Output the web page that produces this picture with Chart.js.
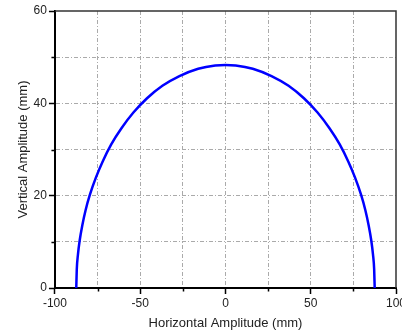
<!DOCTYPE html>
<html>
<head>
<meta charset="utf-8">
<script src="https://cdn.jsdelivr.net/npm/chart.js@4"></script>
<style>
  body { margin: 0; background: #fff; }
  #wrap { width: 402px; height: 331px; }
</style>
</head>
<body>
<div id="wrap"><canvas id="ampChart" width="402" height="331"></canvas></div>
<script>
// Valores
var horizontal = [-87.5, -87.2, -86.5, -85.5, -84, -82, -79.5, -76, -72, -67, -61, -54, -46, -37, -27, -16, -6, 0,
                  6, 16, 27, 37, 46, 54, 61, 67, 72, 76, 79.5, 82, 84, 85.5, 86.5, 87.2, 87.5];
var vertical = [0, 4.0, 7.3, 10.3, 13.5, 16.9, 20.2, 23.9, 27.4, 31.1, 34.6, 38.0, 41.1, 43.8, 45.9, 47.5, 48.2, 48.3,
                48.2, 47.5, 45.9, 43.8, 41.1, 38.0, 34.6, 31.1, 27.4, 23.9, 20.2, 16.9, 13.5, 10.3, 7.3, 4.0, 0];
var xTicks = [-100, -75, -50, -25, 0, 25, 50, 75, 100];
var xLabels = [-100, -50, 0, 50, 100];
var yTicks = [0, 10, 20, 30, 40, 50, 60];
var yLabels = [0, 20, 40, 60];

var points = horizontal.map(function (x, i) { return { x: x, y: vertical[i] }; });

// Moldura superior/direita e tiques menores
var frame = {
    id: 'frame',
    afterDraw: function (chart) {
        var a = chart.chartArea, c = chart.ctx;
        var sx = chart.scales.x, sy = chart.scales.y;
        c.save();
        c.strokeStyle = '#333';
        c.lineWidth = 1.5;
        c.beginPath();
        c.moveTo(a.left, a.top);
        c.lineTo(a.right, a.top);
        c.lineTo(a.right, a.bottom);
        c.stroke();
        c.strokeStyle = '#000';
        c.lineWidth = 1.5;
        c.beginPath();
        xTicks.forEach(function (v) {
            if (xLabels.indexOf(v) >= 0) return;
            var px = Math.round(sx.getPixelForValue(v)) + 0.5;
            c.moveTo(px, a.bottom);
            c.lineTo(px, a.bottom + 3.5);
        });
        yTicks.forEach(function (v) {
            if (yLabels.indexOf(v) >= 0) return;
            var py = Math.round(sy.getPixelForValue(v)) + 0.5;
            c.moveTo(a.left, py);
            c.lineTo(a.left - 3.5, py);
        });
        c.stroke();
        c.restore();
    }
};

var gridColor = function (ctx) {
    if (ctx.type !== 'tick') return 'transparent';
    var v = ctx.tick.value;
    var s = ctx.scale;
    if (v === s.min || v === s.max) return 'transparent';
    return '#aaa';
};

var tickColor = function (labels) {
    return function (ctx) {
        if (ctx.type !== 'tick') return 'transparent';
        return labels.indexOf(ctx.tick.value) >= 0 ? '#000' : 'transparent';
    };
};

var ctx = document.getElementById('ampChart').getContext('2d');
var ampChart = new Chart(ctx, {
    type: 'scatter',
    data: {
        datasets: [{
            data: points,
            showLine: true,
            borderColor: '#0000ff',
            borderWidth: 2.5,
            pointRadius: 0,
            cubicInterpolationMode: 'monotone',
            fill: false
        }]
    },
    options: {
        responsive: false,
        animation: false,
        layout: { padding: { top: 11, right: 6, left: 16, bottom: 0 } },
        plugins: { legend: { display: false }, tooltip: { enabled: false } },
        scales: {
            x: {
                type: 'linear',
                min: -100,
                max: 100,
                afterBuildTicks: function (s) { s.ticks = xTicks.map(function (v) { return { value: v }; }); },
                afterFit: function (s) { s.paddingRight = 0; },
                ticks: {
                    autoSkip: false,
                    maxRotation: 0,
                    color: '#222',
                    font: { family: 'Liberation Sans', size: 12 },
                    padding: 2,
                    callback: function (v) { return xLabels.indexOf(v) >= 0 ? String(v) : ''; }
                },
                grid: {
                    color: gridColor,
                    lineWidth: 1,
                    drawTicks: true,
                    tickLength: 6,
                    tickWidth: 1.5,
                    tickColor: tickColor(xLabels),
                    tickBorderDash: []
                },
                border: { display: true, color: '#000', width: 2, dash: [4, 2, 1, 2] },
                title: {
                    display: true,
                    text: 'Horizontal Amplitude (mm)',
                    color: '#222',
                    font: { family: 'Liberation Sans', size: 13 },
                    padding: { top: 3, bottom: 0 }
                }
            },
            y: {
                type: 'linear',
                min: 0,
                max: 60,
                afterBuildTicks: function (s) { s.ticks = yTicks.map(function (v) { return { value: v }; }); },
                ticks: {
                    autoSkip: false,
                    color: '#222',
                    font: { family: 'Liberation Sans', size: 12 },
                    padding: 2,
                    callback: function (v) { return yLabels.indexOf(v) >= 0 ? String(v) : ''; }
                },
                grid: {
                    color: gridColor,
                    lineWidth: 1,
                    drawTicks: true,
                    tickLength: 6,
                    tickWidth: 1.5,
                    tickColor: tickColor(yLabels),
                    tickBorderDash: []
                },
                border: { display: true, color: '#000', width: 2, dash: [4, 2, 1, 2] },
                title: {
                    display: true,
                    text: 'Vertical Amplitude (mm)',
                    color: '#222',
                    font: { family: 'Liberation Sans', size: 13 },
                    padding: { top: 0, bottom: 0 }
                }
            }
        }
    },
    plugins: [frame]
});
</script>
</body>
</html>
